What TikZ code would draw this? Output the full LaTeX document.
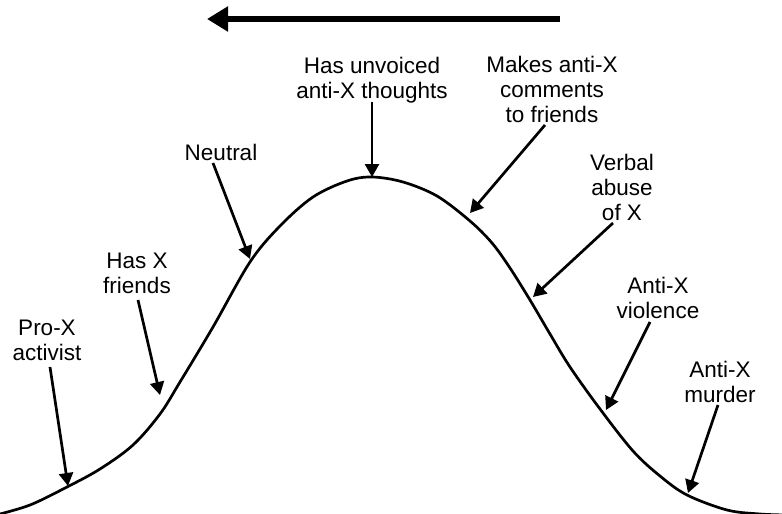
\documentclass[tikz,border=0pt]{standalone}
\usepackage{fontspec}
\setmainfont{Liberation Sans}
\usetikzlibrary{arrows.meta}
\tikzset{
  lbl/.style={align=center, anchor=base, inner sep=0pt, font=\fontsize{22.5}{25}\selectfont},
  ptr/.style={line width=2.7pt, -{Triangle[length=13pt,width=14pt]}},
  bigptr/.style={line width=5.5pt, -{Triangle[length=21pt,width=24pt]}},
  curve/.style={line width=2.7pt, line join=round}
}
\begin{document}
\begin{tikzpicture}[x=1pt,y=-1pt]
\useasboundingbox (0,0) rectangle (782,514);
% direction arrow
\coordinate (dirS) at (560,19);
\coordinate (dirE) at (207,19);
\draw[bigptr] (dirS) -- (dirE);
% bell curve
\draw[curve] plot[smooth, tension=0.55] coordinates {
 (-4,515) (30,505) (67,487) (100,469) (133,445) (160,414) (180,382) (213,327)
 (250,262) (280,226) (313,197) (347,181) (372,177) (403,182) (437,196)
 (470,221) (492,243) (510,268) (530,300) (550,334) (570,367) (600,409)
 (633,451) (660,476) (687,495) (727,510) (760,514) (786,515)};
% labels (anchor = baseline of the last line)
\node[lbl] (thoughts) at (372,98) {Has unvoiced\\anti-X thoughts};
\node[lbl] (makes) at (552,122) {Makes anti-X\\comments\\to friends};
\node[lbl] (neutral) at (221,160) {Neutral};
\node[lbl] (verbal) at (622,220) {Verbal\\abuse\\of X};
\node[lbl] (hasx) at (137,293) {Has X\\friends};
\node[lbl] (viol) at (658,318) {Anti-X\\violence};
\node[lbl] (prox) at (47,360) {Pro-X\\activist};
\node[lbl] (murder) at (720,402) {Anti-X\\murder};
% arrow ends
\coordinate (thoughtsS) at (372,102); \coordinate (thoughtsT) at (372,177);
\coordinate (makesS) at (545,125);    \coordinate (makesT) at (470,213);
\coordinate (neutralS) at (213,163);  \coordinate (neutralT) at (250,259);
\coordinate (verbalS) at (613,223);   \coordinate (verbalT) at (533,297);
\coordinate (violS) at (650,322);     \coordinate (violT) at (606,410);
\coordinate (murderS) at (718,405);   \coordinate (murderT) at (688,493);
\coordinate (proxS) at (50,367);      \coordinate (proxT) at (68,486);
\coordinate (hasxS) at (138,300);     \coordinate (hasxT) at (160,395);
\foreach \n in {thoughts,makes,neutral,verbal,viol,murder,prox,hasx}
  \draw[ptr] (\n S) -- (\n T);
\end{tikzpicture}
\end{document}
